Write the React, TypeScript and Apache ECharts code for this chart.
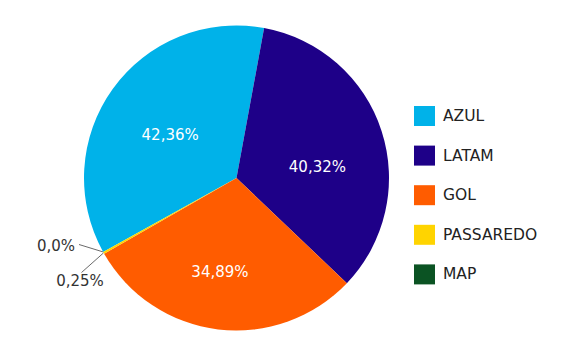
import React, { useEffect, useRef } from "react";
import * as echarts from "echarts";

const categories = ["AZUL", "LATAM", "GOL", "PASSAREDO", "MAP"];
const values = [42.36, 40.32, 34.89, 0.25, 0.0];
const valueLabels = ["42,36%", "40,32%", "34,89%", "0,25%", "0,0%"];
const colors = ["#00b2e9", "#1e0088", "#ff5c00", "#ffd400", "#0b5323"];

const FONT = "DejaVu Sans";

export default function App() {
  const ref = useRef<HTMLDivElement>(null);
  useEffect(() => {
    if (!ref.current) return;
    const chart = echarts.init(ref.current, undefined, { renderer: "svg" });
    const insideOffsets: number[][] = [[-2, 3], [5.5, 13.5], [-7, 15]];
    const data = categories.map((name, i) => {
      const inside = i < 3;
      return {
        name,
        value: values[i],
        itemStyle: { color: colors[i] },
        label: inside
          ? {
              position: "inside",
              color: "#ffffff",
              fontSize: 15,
              fontFamily: FONT,
              offset: insideOffsets[i],
              formatter: valueLabels[i],
            }
          : {
              position: "outside",
              color: "#333333",
              fontSize: 15,
              fontFamily: FONT,
              formatter: valueLabels[i],
            },
        labelLine: { show: !inside },
      };
    });
    chart.setOption({
      animation: false,
      legend: {
        orient: "vertical",
        left: 409,
        top: 101,
        itemWidth: 21,
        itemHeight: 20,
        itemGap: 19.6,
        icon: "rect",
        data: categories,
        textStyle: { fontFamily: FONT, fontSize: 15.5, color: "#222222", padding: [0, 0, 0, 3] },
      },
      series: [
        {
          type: "pie",
          center: [236.5, 178],
          radius: [0, 152.5],
          startAngle: 209,
          clockwise: true,
          avoidLabelOverlap: false,
          label: { show: true },
          labelLine: {
            show: true,
            length: 10,
            length2: 0,
            lineStyle: { color: "#444444", width: 0.8 },
          },
          labelLayout: (params: any) => {
            const start = params.labelLinePoints ? params.labelLinePoints[0] : null;
            const h = params.labelRect ? params.labelRect.height : 18;
            if (params.dataIndex === 3) {
              const cx = 80;
              const cy = 281;
              const out: any = { x: cx, y: cy, align: "center", verticalAlign: "middle" };
              if (start) out.labelLinePoints = [start, [cx + 1.5, cy - h / 2 - 1]];
              return out;
            }
            if (params.dataIndex === 4) {
              const rx = 75;
              const cy = 245.5;
              const out: any = { x: rx, y: cy, align: "right", verticalAlign: "middle" };
              if (start) out.labelLinePoints = [start, [rx + 4, cy - 1]];
              return out;
            }
            return {};
          },
          data,
        },
      ],
    });
    return () => chart.dispose();
  }, []);
  return (
    <div
      ref={ref}
      style={{ position: "fixed", left: 0, top: 0, width: 578, height: 351, background: "#ffffff" }}
    />
  );
}
